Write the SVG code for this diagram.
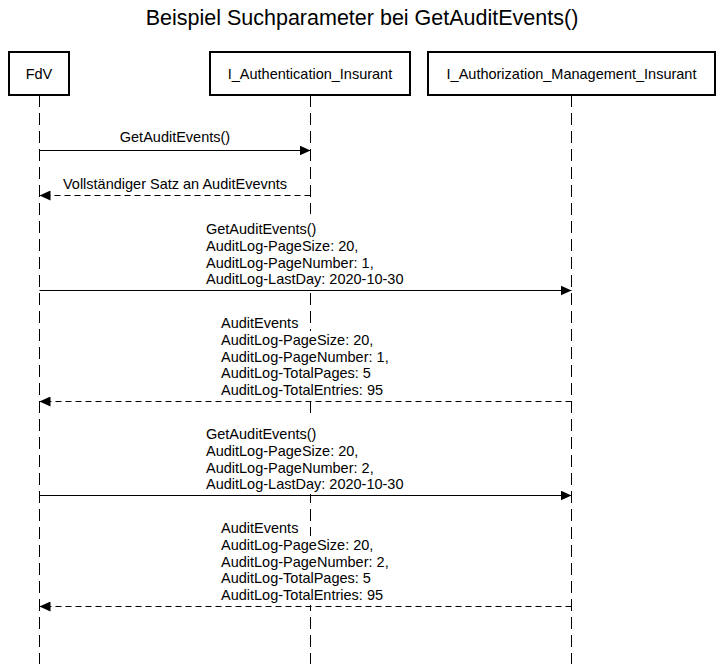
<svg xmlns="http://www.w3.org/2000/svg" width="723" height="664" viewBox="0 0 723 664">
<defs>
<style>
text{font-family:"Liberation Sans",Arial,sans-serif;font-size:14.5px;fill:#000}
.title{font-size:21.5px;text-anchor:middle}
.box{fill:#fff;stroke:#000;stroke-width:2}
.life{stroke:#000;stroke-width:1;stroke-dasharray:12 6;fill:none}
.msg{stroke:#000;stroke-width:1;fill:none}
.ret{stroke:#000;stroke-width:1;fill:none;stroke-dasharray:6 4}
.bg{fill:#fff;stroke:none}
.c{text-anchor:middle}
</style>
<marker id="ah" viewBox="0 0 11 10" refX="11" refY="5" markerWidth="11" markerHeight="10" markerUnits="userSpaceOnUse" orient="auto">
<path d="M0,0 L11,5 L0,10 Z" fill="#000"/>
</marker>
</defs>
<rect width="723" height="664" fill="#fff"/>
<text class="title" x="362" y="25">Beispiel Suchparameter bei GetAuditEvents()</text>

<g id="lifelines">
<line class="life" x1="39.5" y1="95" x2="39.5" y2="664"/>
<line class="life" x1="310.5" y1="95" x2="310.5" y2="664"/>
<line class="life" x1="571.5" y1="95" x2="571.5" y2="664"/>
</g>

<g id="node-fdv">
<rect class="box" x="9" y="52" width="60" height="43"/>
<text class="c" x="39" y="79">FdV</text>
</g>
<g id="node-auth">
<rect class="box" x="210" y="52" width="200" height="43"/>
<text class="c" x="310" y="79">I_Authentication_Insurant</text>
</g>
<g id="node-authz">
<rect class="box" x="428" y="52" width="287" height="43"/>
<text class="c" x="571.5" y="79">I_Authorization_Management_Insurant</text>
</g>

<g id="connectors">
<line class="msg" x1="39.5" y1="150.5" x2="310.5" y2="150.5" marker-end="url(#ah)"/>
<text class="c" x="175" y="142">GetAuditEvents()</text>

<line class="ret" x1="310.5" y1="195.5" x2="39.5" y2="195.5" marker-end="url(#ah)"/>
<text class="c" x="175" y="189">Vollständiger Satz an AuditEvevnts</text>

<rect class="bg" x="204" y="214" width="204" height="75"/>
<line class="msg" x1="39.5" y1="290.5" x2="571.5" y2="290.5" marker-end="url(#ah)"/>
<text x="206" y="234">GetAuditEvents()</text>
<text x="206" y="251">AuditLog-PageSize: 20,</text>
<text x="206" y="267.5">AuditLog-PageNumber: 1,</text>
<text x="206" y="284">AuditLog-LastDay: 2020-10-30</text>

<rect class="bg" x="219" y="331" width="176" height="69"/>
<line class="ret" x1="571.5" y1="401.5" x2="39.5" y2="401.5" marker-end="url(#ah)"/>
<text x="221" y="328">AuditEvents</text>
<text x="221" y="345">AuditLog-PageSize: 20,</text>
<text x="221" y="361.5">AuditLog-PageNumber: 1,</text>
<text x="221" y="378">AuditLog-TotalPages: 5</text>
<text x="221" y="395">AuditLog-TotalEntries: 95</text>

<rect class="bg" x="204" y="419" width="204" height="75"/>
<line class="msg" x1="39.5" y1="495.5" x2="571.5" y2="495.5" marker-end="url(#ah)"/>
<text x="206" y="439">GetAuditEvents()</text>
<text x="206" y="456">AuditLog-PageSize: 20,</text>
<text x="206" y="472.5">AuditLog-PageNumber: 2,</text>
<text x="206" y="489">AuditLog-LastDay: 2020-10-30</text>

<rect class="bg" x="219" y="536" width="176" height="69"/>
<line class="ret" x1="571.5" y1="606.5" x2="39.5" y2="606.5" marker-end="url(#ah)"/>
<text x="221" y="533">AuditEvents</text>
<text x="221" y="550">AuditLog-PageSize: 20,</text>
<text x="221" y="566.5">AuditLog-PageNumber: 2,</text>
<text x="221" y="583">AuditLog-TotalPages: 5</text>
<text x="221" y="600">AuditLog-TotalEntries: 95</text>
</g>
</svg>
